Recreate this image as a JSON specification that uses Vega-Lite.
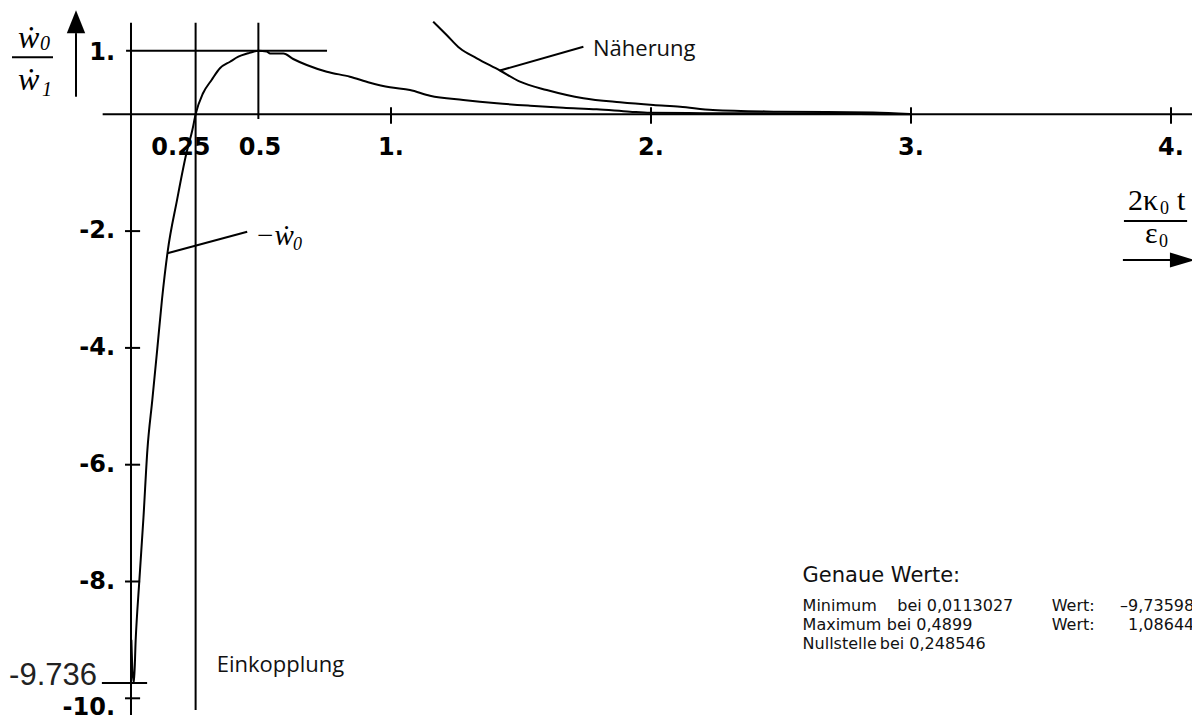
{
  "$schema": "https://vega.github.io/schema/vega-lite/v6.json",
  "width": 1192,
  "height": 718,
  "autosize": {"type": "none"},
  "padding": 0,
  "background": "white",
  "config": {"view": {"stroke": null}},
  "datasets": {
    "curve": [
      {"x": 0.0015, "y": -9.0}, {"x": 0.006, "y": -9.55}, {"x": 0.0113, "y": -9.736}, {"x": 0.018, "y": -9.0},
      {"x": 0.032, "y": -7.99}, {"x": 0.048, "y": -6.9}, {"x": 0.063, "y": -5.75}, {"x": 0.082, "y": -4.89},
      {"x": 0.101, "y": -4.02}, {"x": 0.119, "y": -3.18}, {"x": 0.141, "y": -2.35}, {"x": 0.177, "y": -1.47},
      {"x": 0.2135, "y": -0.66}, {"x": 0.236, "y": -0.27}, {"x": 0.2485, "y": 0}, {"x": 0.277, "y": 0.36},
      {"x": 0.31, "y": 0.587}, {"x": 0.342, "y": 0.788}, {"x": 0.381, "y": 0.9}, {"x": 0.413, "y": 0.986},
      {"x": 0.451, "y": 1.045}, {"x": 0.4704, "y": 1.072}, {"x": 0.4885, "y": 1.0864}, {"x": 0.522, "y": 1.075},
      {"x": 0.535, "y": 1.041}, {"x": 0.586, "y": 1.041}, {"x": 0.624, "y": 0.947}, {"x": 0.676, "y": 0.844},
      {"x": 0.753, "y": 0.729}, {"x": 0.842, "y": 0.644}, {"x": 0.919, "y": 0.541}, {"x": 0.996, "y": 0.462},
      {"x": 1.073, "y": 0.416}, {"x": 1.15, "y": 0.318}, {"x": 1.278, "y": 0.245}, {"x": 1.407, "y": 0.188},
      {"x": 1.535, "y": 0.147}, {"x": 1.663, "y": 0.113}, {"x": 1.791, "y": 0.086}, {"x": 1.919, "y": 0.045},
      {"x": 1.996, "y": 0.025}, {"x": 2.2, "y": 0.02}, {"x": 2.5, "y": 0.015}, {"x": 2.8, "y": 0.006}, {"x": 3.0, "y": 0}
    ],
    "approx": [
      {"x": 1.162, "y": 1.586}, {"x": 1.214, "y": 1.358}, {"x": 1.265, "y": 1.13}, {"x": 1.33, "y": 0.959},
      {"x": 1.419, "y": 0.75}, {"x": 1.496, "y": 0.558}, {"x": 1.599, "y": 0.416}, {"x": 1.74, "y": 0.274},
      {"x": 1.881, "y": 0.205}, {"x": 2.009, "y": 0.159}, {"x": 2.112, "y": 0.13}, {"x": 2.238, "y": 0.074},
      {"x": 2.496, "y": 0.045}, {"x": 2.854, "y": 0.03}, {"x": 2.996, "y": 0.005}
    ],
    "segs": [
      {"x": -0.109, "y": 0, "x2": 4.1, "y2": 0},
      {"x": 0, "y": 1.568, "x2": 0, "y2": -10.286},
      {"x": 0.2485, "y": 1.568, "x2": 0.2485, "y2": -10.2},
      {"x": 0.4899, "y": 1.568, "x2": 0.4899, "y2": -0.08},
      {"x": -0.019, "y": 1.0864, "x2": 0.754, "y2": 1.0864},
      {"x": 1, "y": 0.12, "x2": 1, "y2": -0.16},
      {"x": 2, "y": 0.12, "x2": 2, "y2": -0.16},
      {"x": 3, "y": 0.12, "x2": 3, "y2": -0.16},
      {"x": 4, "y": 0.12, "x2": 4, "y2": -0.16},
      {"x": -0.023, "y": -2, "x2": 0.035, "y2": -2},
      {"x": -0.023, "y": -4, "x2": 0.035, "y2": -4},
      {"x": -0.023, "y": -6, "x2": 0.035, "y2": -6},
      {"x": -0.023, "y": -8, "x2": 0.035, "y2": -8},
      {"x": -0.023, "y": -10, "x2": 0.035, "y2": -10},
      {"x": -0.112, "y": -9.736, "x2": 0.062, "y2": -9.736},
      {"x": -0.2115, "y": 1.39, "x2": -0.2115, "y2": 0.301},
      {"x": 3.815, "y": -2.495, "x2": 4.0, "y2": -2.495},
      {"x": 1.419, "y": 0.75, "x2": 1.74, "y2": 1.157},
      {"x": 0.14, "y": -2.38, "x2": 0.447, "y2": -2.01},
      {"x": -0.4577, "y": 0.976, "x2": -0.3, "y2": 0.976},
      {"x": 3.819, "y": -1.827, "x2": 4.062, "y2": -1.827}
    ],
    "headUp": [{"x": -0.2115, "y": 1.586}],
    "headRight": [{"x": 4.044, "y": -2.495}],
    "texts": [
      {"g": "xt", "x": 0.192, "y": -0.57, "t": "0.25"},
      {"g": "xt", "x": 0.496, "y": -0.57, "t": "0.5"},
      {"g": "xt", "x": 1, "y": -0.57, "t": "1."},
      {"g": "xt", "x": 2, "y": -0.57, "t": "2."},
      {"g": "xt", "x": 3, "y": -0.57, "t": "3."},
      {"g": "xt", "x": 4, "y": -0.57, "t": "4."},
      {"g": "yt", "x": -0.0615, "y": 1.05, "t": "1."},
      {"g": "yt", "x": -0.0615, "y": -2, "t": "-2."},
      {"g": "yt", "x": -0.0615, "y": -4, "t": "-4."},
      {"g": "yt", "x": -0.0615, "y": -6, "t": "-6."},
      {"g": "yt", "x": -0.0615, "y": -8, "t": "-8."},
      {"g": "yt", "x": -0.0615, "y": -10.16, "t": "-10."},
      {"g": "val", "x": -0.1308, "y": -9.771, "t": "-9.736"},
      {"g": "note", "x": 1.7769, "y": 0.998, "t": "Näherung"},
      {"g": "note", "x": 0.3296, "y": -9.545, "t": "Einkopplung"},
      {"g": "head", "x": 2.583, "y": -8.0, "t": "Genaue Werte:"},
      {"g": "info", "x": 2.583, "y": -8.5, "t": "Minimum"},
      {"g": "info", "x": 2.947, "y": -8.5, "t": "bei 0,0113027"},
      {"g": "info", "x": 3.541, "y": -8.5, "t": "Wert:"},
      {"g": "info", "x": 3.804, "y": -8.5, "t": "–9,73598"},
      {"g": "info", "x": 2.583, "y": -8.83, "t": "Maximum"},
      {"g": "info", "x": 2.907, "y": -8.83, "t": "bei 0,4899"},
      {"g": "info", "x": 3.541, "y": -8.83, "t": "Wert:"},
      {"g": "info", "x": 3.835, "y": -8.83, "t": "1,08644"},
      {"g": "info", "x": 2.583, "y": -9.16, "t": "Nullstelle"},
      {"g": "info", "x": 2.88, "y": -9.16, "t": "bei 0,248546"},
      {"g": "mBig", "x": -0.4346, "y": 1.135, "t": "ẇ"},
      {"g": "mBig", "x": -0.4346, "y": 0.416, "t": "ẇ"},
      {"g": "mBigSub", "x": -0.35, "y": 1.101, "t": "0"},
      {"g": "mBigSub", "x": -0.342, "y": 0.313, "t": "1"},
      {"g": "mMid", "x": 0.477, "y": -2.238, "t": "−ẇ"},
      {"g": "mMidSub", "x": 0.623, "y": -2.33, "t": "0"},
      {"g": "xl", "x": 3.835, "y": -1.642, "t": "2κ"},
      {"g": "xl", "x": 4.023, "y": -1.642, "t": "t"},
      {"g": "xl", "x": 3.9, "y": -2.204, "t": "ε"},
      {"g": "xlSub", "x": 3.958, "y": -1.707, "t": "0"},
      {"g": "xlSub", "x": 3.954, "y": -2.272, "t": "0"}
    ]
  },
  "encoding": {
    "x": {"field": "x", "type": "quantitative", "axis": null, "scale": {"domain": [-0.503846, 4.080769], "nice": false, "zero": false}},
    "y": {"field": "y", "type": "quantitative", "axis": null, "scale": {"domain": [-10.3373, 1.9572], "nice": false, "zero": false}}
  },
  "layer": [
    {
      "data": {"name": "segs"},
      "mark": {"type": "rule", "color": "black", "strokeWidth": 2},
      "encoding": {"x2": {"field": "x2"}, "y2": {"field": "y2"}}
    },
    {
      "data": {"name": "curve"},
      "mark": {"type": "line", "color": "black", "strokeWidth": 2, "interpolate": "monotone"},
      "encoding": {}
    },
    {
      "data": {"name": "approx"},
      "mark": {"type": "line", "color": "black", "strokeWidth": 2, "interpolate": "monotone"},
      "encoding": {}
    },
    {
      "data": {"name": "headUp"},
      "mark": {"type": "point", "shape": "M-0.8,1L0,-1L0.8,1Z", "size": 529, "filled": true, "color": "black", "opacity": 1, "strokeWidth": 0}
    },
    {
      "data": {"name": "headRight"},
      "mark": {"type": "point", "shape": "M-1,-0.6L1,0L-1,0.6Z", "size": 625, "filled": true, "color": "black", "opacity": 1, "strokeWidth": 0}
    },
    {
      "data": {"name": "texts"},
      "transform": [{"filter": "datum.g == 'xt'"}],
      "mark": {"type": "text", "font": "DejaVu Sans", "fontWeight": "bold", "fontSize": 24, "align": "center", "baseline": "middle", "color": "black"},
      "encoding": {"text": {"field": "t"}}
    },
    {
      "data": {"name": "texts"},
      "transform": [{"filter": "datum.g == 'yt'"}],
      "mark": {"type": "text", "font": "DejaVu Sans", "fontWeight": "bold", "fontSize": 24, "align": "right", "baseline": "middle", "color": "black"},
      "encoding": {"text": {"field": "t"}}
    },
    {
      "data": {"name": "texts"},
      "transform": [{"filter": "datum.g == 'val'"}],
      "mark": {"type": "text", "font": "Liberation Sans", "fontSize": 31, "align": "right", "baseline": "alphabetic", "color": "#222222"},
      "encoding": {"text": {"field": "t"}}
    },
    {
      "data": {"name": "texts"},
      "transform": [{"filter": "datum.g == 'note'"}],
      "mark": {"type": "text", "font": "Open Sans", "fontSize": 22, "align": "left", "baseline": "alphabetic", "color": "#111111"},
      "encoding": {"text": {"field": "t"}}
    },
    {
      "data": {"name": "texts"},
      "transform": [{"filter": "datum.g == 'head'"}],
      "mark": {"type": "text", "font": "DejaVu Sans", "fontSize": 21, "align": "left", "baseline": "alphabetic", "color": "#111111"},
      "encoding": {"text": {"field": "t"}}
    },
    {
      "data": {"name": "texts"},
      "transform": [{"filter": "datum.g == 'info'"}],
      "mark": {"type": "text", "font": "DejaVu Sans", "fontSize": 16, "align": "left", "baseline": "alphabetic", "color": "#111111"},
      "encoding": {"text": {"field": "t"}}
    },
    {
      "data": {"name": "texts"},
      "transform": [{"filter": "datum.g == 'mBig'"}],
      "mark": {"type": "text", "font": "Liberation Serif, DejaVu Serif, serif", "fontStyle": "italic", "fontSize": 32, "align": "left", "baseline": "alphabetic", "color": "black"},
      "encoding": {"text": {"field": "t"}}
    },
    {
      "data": {"name": "texts"},
      "transform": [{"filter": "datum.g == 'mBigSub'"}],
      "mark": {"type": "text", "font": "Liberation Serif, DejaVu Serif, serif", "fontStyle": "italic", "fontSize": 20, "align": "left", "baseline": "alphabetic", "color": "black"},
      "encoding": {"text": {"field": "t"}}
    },
    {
      "data": {"name": "texts"},
      "transform": [{"filter": "datum.g == 'mMid'"}],
      "mark": {"type": "text", "font": "Liberation Serif, DejaVu Serif, serif", "fontStyle": "italic", "fontSize": 29, "align": "left", "baseline": "alphabetic", "color": "black"},
      "encoding": {"text": {"field": "t"}}
    },
    {
      "data": {"name": "texts"},
      "transform": [{"filter": "datum.g == 'mMidSub'"}],
      "mark": {"type": "text", "font": "Liberation Serif, DejaVu Serif, serif", "fontStyle": "italic", "fontSize": 18, "align": "left", "baseline": "alphabetic", "color": "black"},
      "encoding": {"text": {"field": "t"}}
    },
    {
      "data": {"name": "texts"},
      "transform": [{"filter": "datum.g == 'xl'"}],
      "mark": {"type": "text", "font": "Liberation Serif, DejaVu Serif, serif", "fontSize": 30, "align": "left", "baseline": "alphabetic", "color": "black"},
      "encoding": {"text": {"field": "t"}}
    },
    {
      "data": {"name": "texts"},
      "transform": [{"filter": "datum.g == 'xlSub'"}],
      "mark": {"type": "text", "font": "Liberation Serif, DejaVu Serif, serif", "fontSize": 18, "align": "left", "baseline": "alphabetic", "color": "black"},
      "encoding": {"text": {"field": "t"}}
    }
  ]
}
